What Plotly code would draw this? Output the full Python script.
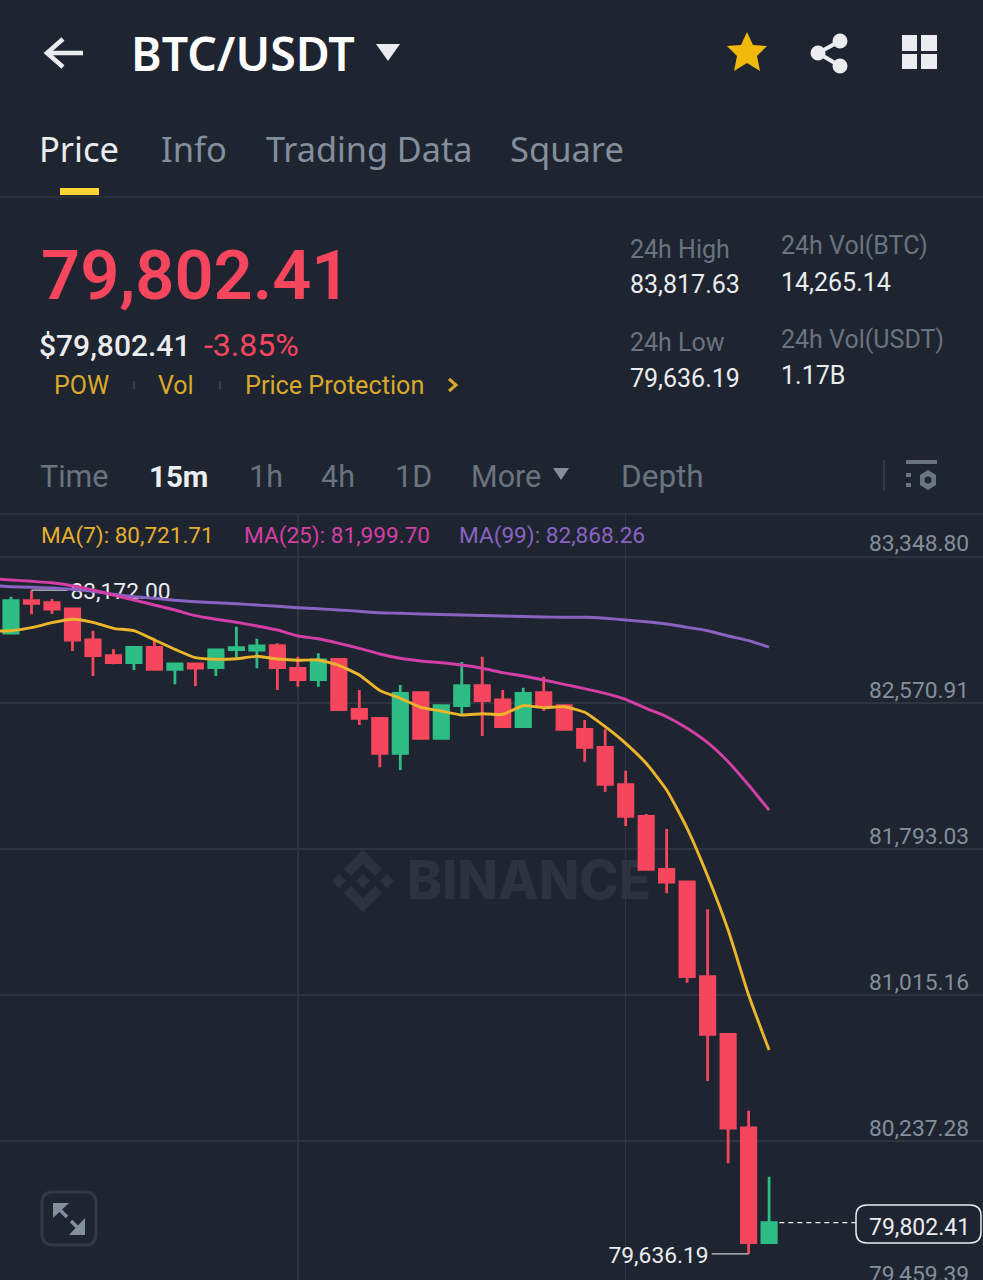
import plotly.graph_objects as go

W, H = 983, 1280
BG = "#1E2530"
GRID = "#2E353F"
RED = "#F6465D"
GREEN = "#2EBD85"
GOLD = "#F0B90B"
GRAY = "#848E9C"
DIM = "#6A7380"
WHITE = "#EAECEF"
NUM = "Roboto"
TXT = "Noto Sans"

# ---------- data ----------
candle_index = list(range(38))
opens = [82943.9, 83116.0, 83105.3, 83071.7, 82906.6, 82822.9, 82785.6, 82867.7, 82750.5, 82778.7,
         82759.0, 82854.9, 82853.3, 82876.2, 82755.8, 82695.1, 82803.8, 82537.0, 82489.4, 82302.9,
         82625.8, 82382.8, 82556.5, 82663.1, 82586.9, 82444.6, 82625.8, 82556.5, 82430.8, 82334.9,
         82135.6, 81967.2, 81684.9, 81617.2, 81112.6, 80805.7, 80306.5, 79695.4]
highs = [83137.3, 83172.0, 83125.0, 83071.7, 82956.1, 82857.0, 82867.7, 82915.6, 82778.7, 82778.7,
         82857.0, 82977.4, 82913.5, 82889.0, 82817.6, 82835.7, 82803.8, 82640.2, 82494.7, 82666.8,
         82625.8, 82556.5, 82789.4, 82817.6, 82640.2, 82652.4, 82711.0, 82556.5, 82480.3, 82430.8,
         82210.2, 81979.5, 81899.6, 81617.2, 81471.8, 80805.7, 80398.7, 80047.0]
lows = [82943.9, 83043.5, 83045.0, 82848.0, 82714.8, 82777.1, 82746.7, 82750.5, 82670.5, 82661.5,
        82714.8, 82814.4, 82755.8, 82640.2, 82657.8, 82657.8, 82535.2, 82453.7, 82228.3, 82213.9,
        82382.8, 82382.8, 82512.3, 82395.1, 82437.7, 82444.6, 82529.9, 82423.3, 82258.2, 82098.3,
        81915.6, 81677.4, 81557.0, 81080.7, 80556.9, 80118.4, 79636.19, 79695.4]
closes = [83116.0, 83102.1, 83071.7, 82906.6, 82822.9, 82785.6, 82867.7, 82750.5, 82778.7, 82757.4,
          82853.3, 82865.5, 82874.6, 82759.0, 82695.1, 82800.0, 82535.2, 82489.4, 82302.9, 82622.6,
          82382.8, 82556.5, 82663.1, 82583.2, 82444.6, 82622.6, 82551.2, 82430.8, 82334.9, 82137.8,
          81967.2, 81684.9, 81617.2, 81112.6, 80805.7, 80306.5, 79695.4, 79802.41]

ma_index = list(range(-1, 38))
ma7 = [82954.5, 82956.1, 82972.1, 82998.8, 83016.9, 83000.9, 82968.9, 82956.1, 82906.6, 82857.0,
       82812.3, 82803.8, 82806.9, 82819.7, 82805.3, 82798.4, 82800.0, 82771.8, 82720.1, 82637.5,
       82596.0, 82548.0, 82528.3, 82507.0, 82513.9, 82510.7, 82556.5, 82545.9, 82551.2, 82521.4,
       82444.6, 82356.2, 82249.6, 82107.4, 81903.3, 81649.2, 81361.5, 81015.1, 80721.71]
ma25 = [83234.2, 83226.3, 83219.3, 83211.9, 83195.9, 83173.0, 83146.3, 83119.7, 83093.1, 83066.4,
        83036.0, 83016.9, 83000.9, 82981.2, 82959.9, 82927.9, 82913.5, 82889.0, 82862.4, 82832.0,
        82809.1, 82794.7, 82785.6, 82773.4, 82755.8, 82732.4, 82714.8, 82693.5, 82670.5, 82647.1,
        82622.6, 82590.6, 82542.7, 82497.9, 82436.1, 82359.4, 82258.2, 82134.0, 81999.70]
ma99 = [83197.0, 83190.6, 83187.4, 83183.6, 83176.7, 83166.0, 83150.1, 83137.3, 83128.8, 83118.1,
        83110.6, 83105.3, 83100.0, 83093.1, 83086.1, 83078.7, 83073.3, 83066.4, 83059.5, 83052.0,
        83048.8, 83045.1, 83042.4, 83039.8, 83037.1, 83034.4, 83031.8, 83029.1, 83028.1, 83027.5,
        83022.2, 83013.1, 83004.1, 82991.8, 82974.2, 82956.1, 82927.9, 82902.8, 82868.26]

price_ticks = [83348.80, 82570.91, 81793.03, 81015.16, 80237.28, 79459.39]
vertical_grid = [14, 30]
last_price = 79802.41
low_price = 79636.19
marked_high = 83172.00

# ---------- axis windows ----------
Y_MIN, Y_MAX = 79496.7, 83577.9
X_MIN, X_MAX = -0.537, 47.44
CHART_TOP = 514
LABEL_DROP = 18  # scatter text sits slightly high; nudge it onto its leader line


def fx(px):
    return px / W


def fy(py):
    return 1 - py / H


def price_py(v):
    return CHART_TOP + (Y_MAX - v) / (Y_MAX - Y_MIN) * (H - CHART_TOP)


def poly(points, close=True):
    s = "M" + " L".join(f"{fx(x):.5f},{fy(y):.5f}" for x, y in points)
    return s + (" Z" if close else "")


def rounded(x0, y0, x1, y1, r):
    rx, ry = r / W, r / H
    a, b, c, d = fx(x0), fx(x1), fy(y0), fy(y1)
    return (f"M{a + rx:.5f},{c:.5f} L{b - rx:.5f},{c:.5f} Q{b:.5f},{c:.5f} {b:.5f},{c - ry:.5f} "
            f"L{b:.5f},{d + ry:.5f} Q{b:.5f},{d:.5f} {b - rx:.5f},{d:.5f} "
            f"L{a + rx:.5f},{d:.5f} Q{a:.5f},{d:.5f} {a:.5f},{d + ry:.5f} "
            f"L{a:.5f},{c - ry:.5f} Q{a:.5f},{c:.5f} {a + rx:.5f},{c:.5f} Z")


shapes = []
annotations = []


def fill(points, color, layer="above"):
    shapes.append(dict(type="path", xref="paper", yref="paper", path=poly(points), fillcolor=color,
                       line=dict(width=0), layer=layer))


def stroke(points, color, width):
    shapes.append(dict(type="path", xref="paper", yref="paper", path=poly(points, close=False),
                       line=dict(color=color, width=width)))


def circle(cx, cy, r, color):
    shapes.append(dict(type="circle", xref="paper", yref="paper", x0=fx(cx - r), x1=fx(cx + r),
                       y0=fy(cy + r), y1=fy(cy - r), fillcolor=color, line=dict(width=0)))


def text(s, x, y, size, color, family=TXT, weight=400, anchor="left"):
    annotations.append(dict(text=s, xref="paper", yref="paper", x=fx(x), y=fy(y), xanchor=anchor,
                            yanchor="middle", showarrow=False, borderpad=0,
                            font=dict(family=family, size=size, color=color, weight=weight)))


# ---------- header ----------
stroke([(63, 39), (47, 53), (63, 67)], WHITE, 4.5)
stroke([(47, 53), (83, 53)], WHITE, 4.5)
text("BTC/USDT", 130, 53, 46.5, "#FFFFFF", weight=600)
fill([(376, 44), (400, 44), (388, 61)], WHITE)
fill([(747, 32), (753, 45), (767, 46), (757, 56), (760, 71), (747, 63), (734, 71), (737, 56), (727, 46), (741, 45)], GOLD)
stroke([(840, 41), (818, 53), (840, 66)], WHITE, 4)
circle(840, 41, 7.5, WHITE)
circle(818, 53, 7.5, WHITE)
circle(840, 66, 7.5, WHITE)
for x0, x1 in ((902, 917), (921, 937)):
    for y0, y1 in ((35, 51), (54, 69)):
        fill([(x0, y0), (x1, y0), (x1, y1), (x0, y1)], WHITE)

text("Price", 38, 148.5, 34.5, WHITE)
text("Info", 160, 148.5, 34.5, GRAY)
text("Trading Data", 265, 148.5, 34.2, GRAY)
text("Square", 509, 148.5, 34.5, GRAY)
fill([(60, 188), (99, 188), (99, 195), (60, 195)], "#FCD535")
stroke([(0, 197), (983, 197)], GRID, 1.5)

# ---------- price block ----------
text("79,802.41", 39.5, 276, 68.5, RED, family=NUM, weight=600)
text("$79,802.41", 37.5, 345, 30, WHITE, family=NUM, weight=500)
text("-3.85%", 203, 345, 32, RED, family=NUM)
text("POW", 52.5, 385, 25, "#D9A92B", family=NUM)
text("Vol", 157, 385, 25, "#D9A92B", family=NUM)
text("Price Protection", 243.5, 385, 25.2, "#D9A92B", family=NUM)
stroke([(449, 379), (456, 385), (449, 391)], "#D9A92B", 3)
stroke([(134, 381), (134, 389)], "#3A414C", 2)
stroke([(220, 381), (220, 389)], "#3A414C", 2)

text("24h High", 628.5, 249, 25, DIM, family=NUM)
text("83,817.63", 628.5, 284, 25, WHITE, family=NUM)
text("24h Vol(BTC)", 779.5, 245.5, 25, DIM, family=NUM)
text("14,265.14", 779.5, 282, 25, WHITE, family=NUM)
text("24h Low", 628.5, 342, 25, DIM, family=NUM)
text("79,636.19", 628.5, 378, 25, WHITE, family=NUM)
text("24h Vol(USDT)", 779.5, 339.5, 25, DIM, family=NUM)
text("1.17B", 779.5, 375.5, 25, WHITE, family=NUM)

# ---------- interval row ----------
text("Time", 38.5, 476.5, 30.5, DIM, family=NUM)
text("15m", 148, 476.5, 29.5, WHITE, family=NUM, weight=700)
text("1h", 247.5, 476.5, 30.5, DIM, family=NUM)
text("4h", 319.5, 476.5, 30.5, DIM, family=NUM)
text("1D", 393.5, 476.5, 30.5, DIM, family=NUM)
text("More", 469.5, 476.5, 30.5, DIM, family=NUM)
fill([(553, 468), (569, 468), (561, 480)], GRAY)
text("Depth", 619.5, 476.5, 31.5, DIM, family=NUM)
stroke([(884, 460), (884, 490)], "#333A45", 2)
fill([(906, 460), (937, 460), (937, 464), (906, 464)], DIM)
fill([(906, 473), (911, 473), (911, 477), (906, 477)], DIM)
fill([(906, 483), (911, 483), (911, 487), (906, 487)], DIM)
fill([(928, 470), (936, 475), (936, 485), (928, 490), (920, 485), (920, 475)], DIM)
circle(928, 480, 3.5, BG)
stroke([(0, 514), (983, 514)], GRID, 1.5)

# ---------- MA legend ----------
text("MA(7): 80,721.71", 40, 535, 22.5, "#E5AE2E", family=NUM)
text("MA(25): 81,999.70", 242.5, 535, 22.6, "#D33FA6", family=NUM)
text("MA(99): 82,868.26", 457.5, 535, 22.6, "#8A63C2", family=NUM)

# ---------- axis labels ----------
for v in price_ticks:
    text(f"{v:,.2f}", 969.5, price_py(v) - 13, 22.8, GRAY, family=NUM, anchor="right")

# ---------- last price tag ----------
shapes.append(dict(type="path", xref="paper", yref="paper", path=rounded(856, 1205, 981, 1243, 11),
                   fillcolor=BG, line=dict(color=WHITE, width=1.5)))
text(f"{last_price:,.2f}", 919, 1227, 23, WHITE, family=NUM, anchor="center")

# ---------- expand button ----------
shapes.append(dict(type="path", xref="paper", yref="paper", path=rounded(42, 1192, 96, 1245, 11),
                   line=dict(color="#333A45", width=3)))
fill([(53, 1203), (69, 1203), (53, 1218)], GRAY)
fill([(85, 1235), (69, 1235), (85, 1218)], GRAY)
stroke([(58, 1208), (67, 1217)], GRAY, 3.5)
stroke([(71, 1221), (80, 1230)], GRAY, 3.5)

# ---------- watermark ----------
WM = "#2D333E"
lx, ly = 363, 881
fill([(lx, ly - 7), (lx + 7, ly), (lx, ly + 7), (lx - 7, ly)], WM, "below")
fill([(lx - 24, ly - 7), (lx - 17, ly), (lx - 24, ly + 7), (lx - 31, ly)], WM, "below")
fill([(lx + 24, ly - 7), (lx + 31, ly), (lx + 24, ly + 7), (lx + 17, ly)], WM, "below")
fill([(lx, ly - 31), (lx + 19, ly - 12), (lx + 12, ly - 5), (lx, ly - 17), (lx - 12, ly - 5), (lx - 19, ly - 12)], WM, "below")
fill([(lx, ly + 31), (lx + 19, ly + 12), (lx + 12, ly + 5), (lx, ly + 17), (lx - 12, ly + 5), (lx - 19, ly + 12)], WM, "below")
shapes.append(dict(type="rect", xref="paper", yref="paper", layer="below", x0=fx(406), x1=fx(652),
                   y0=fy(908), y1=fy(848), line=dict(width=0), fillcolor="rgba(0,0,0,0)",
                   label=dict(text="BINANCE", textposition="middle center",
                              font=dict(family="Inter", size=53, color=WM, weight=800))))

# ---------- traces ----------
fig = go.Figure()
fig.add_trace(go.Candlestick(
    x=candle_index, open=opens, high=highs, low=lows, close=closes,
    increasing=dict(line=dict(color=GREEN, width=2.8), fillcolor=GREEN),
    decreasing=dict(line=dict(color=RED, width=2.8), fillcolor=RED),
    whiskerwidth=0, hoverinfo="skip", showlegend=False))

fig.add_trace(go.Scatter(x=[1, 2.75], y=[marked_high, marked_high], mode="lines",
                         line=dict(color="#C9CDD3", width=1.2), hoverinfo="skip", showlegend=False))
fig.add_trace(go.Scatter(x=[2.9], y=[marked_high - LABEL_DROP], mode="text", text=[f"{marked_high:,.2f}"],
                         textposition="middle right",
                         textfont=dict(family=NUM, size=22.8, color=WHITE), hoverinfo="skip", showlegend=False))
fig.add_trace(go.Scatter(x=[36, 34.2], y=[low_price, low_price], mode="lines",
                         line=dict(color="#C9CDD3", width=1.2), hoverinfo="skip", showlegend=False))
fig.add_trace(go.Scatter(x=[34.05], y=[low_price - LABEL_DROP], mode="text", text=[f"{low_price:,.2f}"],
                         textposition="middle left",
                         textfont=dict(family=NUM, size=22.8, color=WHITE), hoverinfo="skip", showlegend=False))
fig.add_trace(go.Scatter(x=[37.5, 41.25], y=[last_price, last_price], mode="lines",
                         line=dict(color=WHITE, width=1.3, dash="5px,4px"), hoverinfo="skip", showlegend=False))

for name, series, color in (("MA(99)", ma99, "#8A63C2"), ("MA(25)", ma25, "#D33FA6"), ("MA(7)", ma7, "#EDB52B")):
    fig.add_trace(go.Scatter(x=ma_index, y=series, mode="lines", name=name,
                             line=dict(color=color, width=2.9, shape="spline", smoothing=0.5),
                             hoverinfo="skip", showlegend=False))

fig.update_layout(
    width=W, height=H, margin=dict(l=0, r=0, t=0, b=0, pad=0), autosize=False,
    paper_bgcolor=BG, plot_bgcolor="rgba(0,0,0,0)", showlegend=False, boxgap=0,
    xaxis=dict(range=[X_MIN, X_MAX], domain=[0, 1], tickvals=vertical_grid, showticklabels=False, ticks="",
               showgrid=True, gridcolor=GRID, gridwidth=1.3, zeroline=False, showline=False,
               rangeslider=dict(visible=False), fixedrange=True),
    yaxis=dict(range=[Y_MIN, Y_MAX], domain=[0, (H - CHART_TOP) / H], tickvals=price_ticks, showticklabels=False,
               ticks="", showgrid=True, gridcolor=GRID, gridwidth=1.3, zeroline=False, showline=False,
               fixedrange=True),
    shapes=shapes, annotations=annotations,
)

fig.write_html("out.html", config=dict(displayModeBar=False, staticPlot=True),
               post_script="document.body.style.margin='0';document.body.style.overflow='hidden';"
                           f"document.body.style.background='{BG}';")
